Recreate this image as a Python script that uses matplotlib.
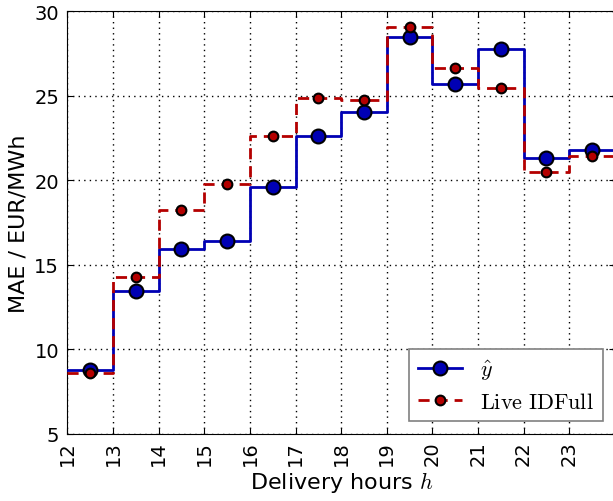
import numpy as np
import matplotlib
matplotlib.use("Agg")
import matplotlib.pyplot as plt
import matplotlib.transforms as mtransforms
from matplotlib.lines import Line2D

plt.rcParams["mathtext.fontset"] = "cm"

# delivery hours and MAE values (EUR/MWh)
hours = np.arange(12, 24)
hour_labels = [str(h) for h in hours]
mae_yhat = [8.77, 13.47, 15.92, 16.39, 19.58, 22.61, 24.05, 28.44, 25.69, 27.73, 21.31, 21.78]
mae_live = [8.59, 14.26, 18.24, 19.78, 22.59, 24.84, 24.76, 29.03, 26.63, 25.45, 20.47, 21.41]

blue = "#0000b4"
red = "#b40000"

fig = plt.figure(figsize=(6.13, 5.02), dpi=100)
ax = fig.add_axes([0.110, 0.1335, 0.893, 0.8425])

edges = np.append(hours, hours[-1] + 1)
centers = hours + 0.5

# step lines
ax.step(edges, np.append(mae_yhat, mae_yhat[-1]), where="post", color=blue, lw=2, zorder=3)
ax.step(edges, np.append(mae_live, mae_live[-1]), where="post", color=red, lw=2,
        ls=(0, (4, 2.5)), zorder=3)

# markers
ax.plot(centers, mae_yhat, "o", color=blue, mec="black", mew=1.5, ms=10, zorder=4)
ax.plot(centers, mae_live, "o", color=red, mec="black", mew=1.5, ms=7, zorder=5)

ax.set_xlim(12, 24)
ax.set_ylim(5, 30)
ax.set_yticks([5, 10, 15, 20, 25, 30])
ax.set_xticks(hours)
ax.tick_params(direction="in", labelsize=14, length=4, top=True, right=True, pad=6)
ax.tick_params(axis="x", labelbottom=False)
ax.grid(True, color="black", ls=(0, (1, 3)), lw=1)

# vertical hour labels under the axis
trans = mtransforms.offset_copy(ax.get_xaxis_transform(), fig=fig, x=0, y=-6, units="dots")
for h, lbl in zip(hours, hour_labels):
    ax.text(h, 0, lbl, transform=trans, rotation=90, ha="center", va="top",
            fontsize=14, clip_on=False)

ax.set_xlabel(r"Delivery hours $h$", fontsize=16, va="top")
ax.xaxis.set_label_coords(0.5, -0.082)
ax.set_ylabel("MAE / EUR/MWh", fontsize=16)

handles = [
    Line2D([], [], color=blue, lw=2, marker="o", mfc=blue, mec="black", mew=1.5, ms=10),
    Line2D([], [], color=red, lw=2, ls=(0, (4, 2.5)), marker="o", mfc=red, mec="black", mew=1.5, ms=7),
]
leg = ax.legend(handles, [r"$\hat{y}$", r"$\mathrm{Live\ IDFull}$"], loc="lower right",
                fontsize=16, numpoints=1, fancybox=False, framealpha=1,
                handlelength=2.0, borderpad=0.4, labelspacing=0.45, borderaxespad=0,
                bbox_to_anchor=(0.978, 0.031))
leg.get_frame().set_edgecolor("gray")
leg.get_frame().set_linewidth(1.2)

fig.savefig("out.png", dpi=100)
